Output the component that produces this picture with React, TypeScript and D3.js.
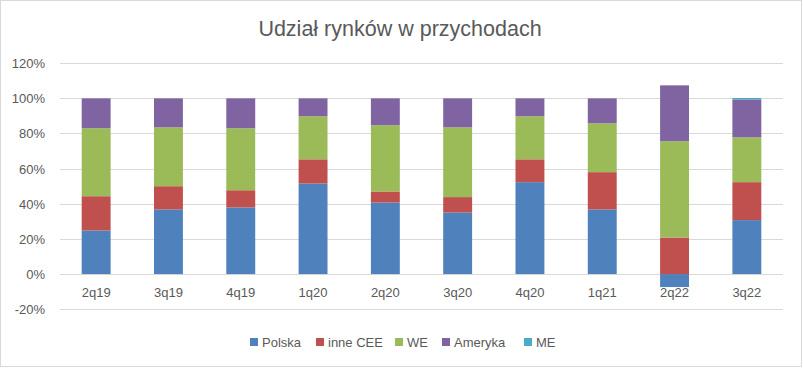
import * as d3 from "d3";
import React, { useEffect, useRef } from "react";

const categories = ["2q19", "3q19", "4q19", "1q20", "2q20", "3q20", "4q20", "1q21", "2q22", "3q22"];
const seriesNames = ["Polska", "inne CEE", "WE", "Ameryka", "ME"];
const polska = [24.8, 36.8, 37.9, 51.5, 40.7, 35.0, 52.3, 36.8, -7.4, 30.7];
const inneCEE = [19.5, 13.2, 9.8, 13.8, 6.3, 8.8, 13.0, 21.2, 20.8, 21.6];
const we = [38.7, 33.5, 35.3, 24.5, 37.7, 39.7, 24.5, 27.8, 54.8, 25.5];
const ameryka = [17.0, 16.5, 17.0, 10.2, 15.3, 16.5, 10.2, 14.2, 31.8, 21.6];
const me = [0, 0, 0, 0, 0, 0, 0, 0, 0, 0.8];
const colors = ["#4f81bd", "#c0504d", "#9bbb59", "#8064a2", "#4bacc6"];
const yTicks = [-20, 0, 20, 40, 60, 80, 100, 120];

const App: React.FC = () => {
  const ref = useRef<SVGSVGElement>(null);

  useEffect(() => {
    document.body.style.margin = "0";
    if (!ref.current) return;
    const svg = d3.select(ref.current);
    svg.selectAll("*").remove();
    const width = 803;
    const height = 368;
    const font = "'Liberation Sans', Arial, sans-serif";
    const textColor = "#595959";

    // chart border
    svg.append("rect")
      .attr("x", 0.5).attr("y", 0.5)
      .attr("width", width - 2).attr("height", height - 2)
      .attr("fill", "#fff").attr("stroke", "#d9d9d9");

    svg.append("text")
      .attr("x", 400).attr("y", 36)
      .attr("text-anchor", "middle")
      .attr("font-family", font).attr("font-size", 21.5)
      .attr("fill", textColor)
      .text("Udział rynków w przychodach");

    const x = d3.scaleBand().domain(categories).range([60, 783]).paddingInner(0.6).paddingOuter(0.3);
    const y = d3.scaleLinear().domain([-20, 120]).range([309.2, 63.2]);

    // grid
    svg.append("g").selectAll("line").data(yTicks).enter().append("line")
      .attr("x1", 60).attr("x2", 783)
      .attr("y1", (d) => Math.round(y(d)) + 0.5).attr("y2", (d) => Math.round(y(d)) + 0.5)
      .attr("stroke", "#d9d9d9").attr("stroke-width", 1);

    svg.append("g").selectAll("text").data(yTicks).enter().append("text")
      .attr("x", 45).attr("y", (d) => y(d) + 5)
      .attr("text-anchor", "end")
      .attr("font-family", font).attr("font-size", 13)
      .attr("fill", textColor)
      .text((d) => `${d}%`);

    const rows = categories.map((c, i) => ({
      cat: c,
      Polska: polska[i],
      "inne CEE": inneCEE[i],
      WE: we[i],
      Ameryka: ameryka[i],
      ME: me[i],
    }));
    const stack = d3.stack<any>().keys(seriesNames).offset(d3.stackOffsetDiverging);
    const layers = stack(rows);

    svg.append("g").selectAll("g").data(layers).enter().append("g")
      .attr("fill", (_, i) => colors[i])
      .selectAll("rect")
      .data((d) => d)
      .enter().append("rect")
      .attr("x", (d) => x(d.data.cat) as number)
      .attr("width", x.bandwidth())
      .attr("y", (d) => y(Math.max(d[0], d[1])))
      .attr("height", (d) => Math.abs(y(d[0]) - y(d[1])));

    svg.append("g").selectAll("text").data(categories).enter().append("text")
      .attr("x", (d) => (x(d) as number) + x.bandwidth() / 2)
      .attr("y", 297)
      .attr("text-anchor", "middle")
      .attr("font-family", font).attr("font-size", 13)
      .attr("fill", textColor)
      .text((d) => d);

    // legend
    const legendX = [250, 316, 395, 442, 524];
    const lg = svg.append("g").selectAll("g").data(seriesNames).enter().append("g")
      .attr("transform", (_, i) => `translate(${legendX[i]},338)`);
    lg.append("rect").attr("width", 8).attr("height", 8).attr("fill", (_, i) => colors[i]);
    lg.append("text")
      .attr("x", 12).attr("y", 9)
      .attr("font-family", font).attr("font-size", 13)
      .attr("fill", textColor)
      .text((d) => d);
  }, []);

  return <svg ref={ref} width={803} height={368} style={{ display: "block" }} />;
};

export default App;
